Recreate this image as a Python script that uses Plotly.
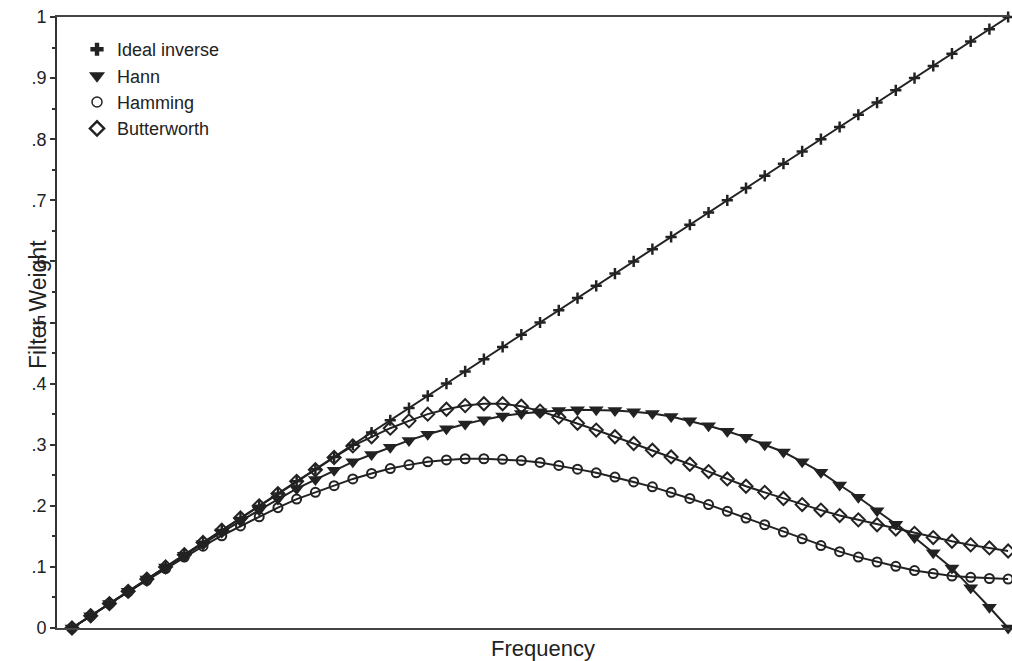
import plotly.graph_objects as go

frequency = [0.00, 0.02, 0.04, 0.06, 0.08, 0.10, 0.12, 0.14, 0.16, 0.18,
             0.20, 0.22, 0.24, 0.26, 0.28, 0.30, 0.32, 0.34, 0.36, 0.38,
             0.40, 0.42, 0.44, 0.46, 0.48, 0.50, 0.52, 0.54, 0.56, 0.58,
             0.60, 0.62, 0.64, 0.66, 0.68, 0.70, 0.72, 0.74, 0.76, 0.78,
             0.80, 0.82, 0.84, 0.86, 0.88, 0.90, 0.92, 0.94, 0.96, 0.98,
             1.00]

ideal_inverse = [0.00, 0.02, 0.04, 0.06, 0.08, 0.10, 0.12, 0.14, 0.16, 0.18,
                 0.20, 0.22, 0.24, 0.26, 0.28, 0.30, 0.32, 0.34, 0.36, 0.38,
                 0.40, 0.42, 0.44, 0.46, 0.48, 0.50, 0.52, 0.54, 0.56, 0.58,
                 0.60, 0.62, 0.64, 0.66, 0.68, 0.70, 0.72, 0.74, 0.76, 0.78,
                 0.80, 0.82, 0.84, 0.86, 0.88, 0.90, 0.92, 0.94, 0.96, 0.98,
                 1.00]

hann = [0.000, 0.020, 0.040, 0.060, 0.080, 0.100, 0.119, 0.138, 0.157, 0.175,
        0.193, 0.211, 0.228, 0.243, 0.258, 0.272, 0.284, 0.296, 0.307, 0.317,
        0.326, 0.334, 0.341, 0.347, 0.351, 0.354, 0.356, 0.357, 0.357, 0.356,
        0.354, 0.351, 0.346, 0.339, 0.331, 0.322, 0.312, 0.300, 0.288, 0.272,
        0.255, 0.234, 0.214, 0.192, 0.170, 0.148, 0.123, 0.098, 0.066, 0.034,
        0.000]

hamming = [0.000, 0.020, 0.040, 0.059, 0.078, 0.097, 0.116, 0.134, 0.151, 0.167,
           0.182, 0.197, 0.211, 0.222, 0.233, 0.244, 0.253, 0.261, 0.267, 0.272,
           0.275, 0.277, 0.277, 0.276, 0.274, 0.271, 0.266, 0.260, 0.254, 0.247,
           0.239, 0.231, 0.222, 0.212, 0.202, 0.191, 0.180, 0.169, 0.157, 0.146,
           0.135, 0.125, 0.116, 0.108, 0.101, 0.094, 0.089, 0.085, 0.083, 0.081,
           0.080]

butterworth = [0.000, 0.020, 0.040, 0.060, 0.080, 0.100, 0.120, 0.140, 0.160, 0.180,
               0.200, 0.220, 0.240, 0.259, 0.279, 0.298, 0.313, 0.327, 0.339, 0.350,
               0.358, 0.364, 0.367, 0.367, 0.363, 0.355, 0.345, 0.335, 0.324, 0.313,
               0.302, 0.291, 0.280, 0.268, 0.256, 0.244, 0.232, 0.222, 0.212, 0.202,
               0.193, 0.184, 0.177, 0.169, 0.162, 0.155, 0.148, 0.142, 0.136, 0.131,
               0.126]

y_tickvals = [0, 0.1, 0.2, 0.3, 0.4, 0.5, 0.6, 0.7, 0.8, 0.9, 1.0]
y_ticktext = ["0", ".1", ".2", ".3", ".4", ".5", ".6", ".7", ".8", ".9", "1"]

INK = "#222"
series = [
    ("Ideal inverse", ideal_inverse,
     dict(symbol="cross-thin", size=8, line=dict(width=2.5, color=INK)),
     dict(symbol="cross", size=11, color=INK)),
    ("Hann", hann,
     dict(symbol="triangle-down", size=13, color=INK),
     dict(symbol="triangle-down", size=14, color=INK)),
    ("Hamming", hamming,
     dict(symbol="circle-open", size=9, line=dict(width=2, color=INK), color=INK),
     dict(symbol="circle-open", size=10, line=dict(width=1.5), color=INK)),
    ("Butterworth", butterworth,
     dict(symbol="diamond-open", size=10, line=dict(width=2, color=INK), color=INK),
     dict(symbol="diamond-open", size=11, line=dict(width=2.4), color=INK)),
]

fig = go.Figure()
for name, vals, mk, legmk in series:
    fig.add_trace(go.Scatter(
        x=frequency, y=vals, mode="lines+markers", name=name,
        line=dict(color=INK, width=2), marker=mk, showlegend=False,
        legendgroup=name, cliponaxis=False))
for name, vals, mk, legmk in series:
    fig.add_trace(go.Scatter(
        x=[None], y=[None], mode="markers", name=name, marker=legmk,
        showlegend=True, legendgroup=name))

fig.update_layout(
    width=1012, height=661,
    margin=dict(l=57, r=2, t=17, b=33),
    paper_bgcolor="white", plot_bgcolor="white",
    font=dict(family="Liberation Sans, Arial, sans-serif", color=INK),
    showlegend=True,
    legend=dict(x=0.021, y=0.977, xanchor="left", yanchor="top",
                font=dict(size=18, color=INK), bgcolor="rgba(0,0,0,0)",
                itemwidth=30, tracegroupgap=0),
)
fig.update_xaxes(range=[-0.016, 1.002], showgrid=False, zeroline=False,
                 showticklabels=False, ticks="", showline=True, mirror=True,
                 linecolor="#444", linewidth=2)
fig.update_yaxes(range=[0, 1], showgrid=False, zeroline=False,
                 tickvals=y_tickvals, ticktext=y_ticktext, ticks="outside",
                 ticklen=5, tickwidth=1.5, tickcolor="#333",
                 tickfont=dict(size=18, color=INK),
                 minor=dict(dtick=0.05, ticks="outside", ticklen=3, tickcolor="#333"),
                 showline=True, linecolor="#333", linewidth=2, mirror=False)

fig.add_annotation(text="Filter Weight", textangle=-90, xref="paper", yref="paper",
                   x=-0.02, y=0.53, xanchor="center", yanchor="middle",
                   showarrow=False, font=dict(size=23, color=INK))
fig.add_annotation(text="Frequency", xref="paper", yref="paper",
                   x=0.51, y=-0.033, xanchor="center", yanchor="middle",
                   showarrow=False, font=dict(size=22, color=INK))

fig.write_html("out.html", config={"displayModeBar": False},
               post_script="document.body.style.margin='0';document.body.style.overflow='hidden';")
